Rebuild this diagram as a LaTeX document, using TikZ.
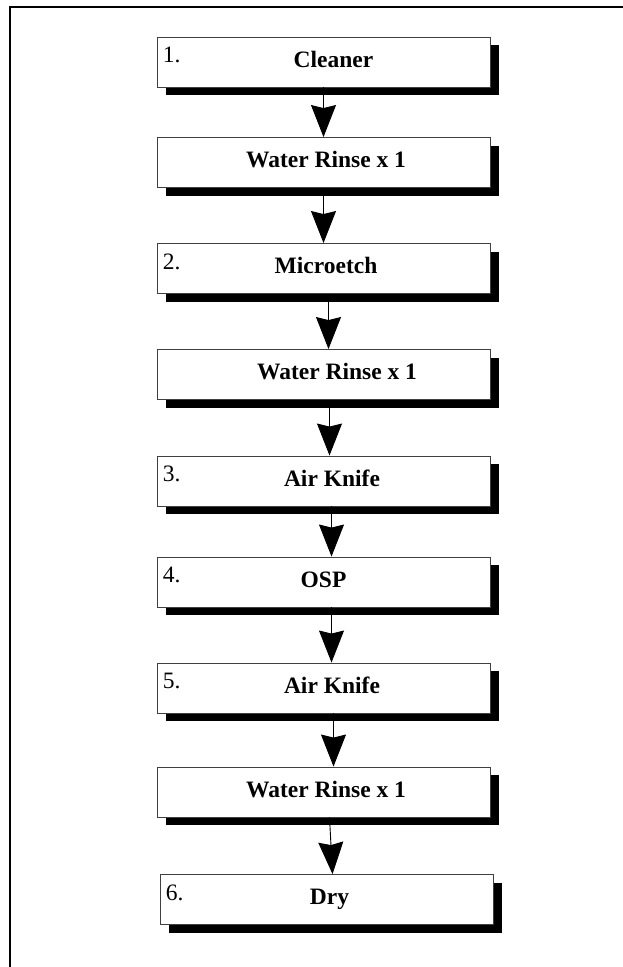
\documentclass[tikz,border=0pt]{standalone}
\usepackage{fontspec}
\setmainfont{Liberation Serif}
\usepackage{tikz}
\usetikzlibrary{arrows.meta, positioning, calc, shadows}

\tikzset{
    stepbox/.style={draw=black!75, line width=0.9pt, fill=white, minimum width=333pt, minimum height=50pt,
        inner sep=0pt, text height=15pt, text depth=5pt, font=\fontsize{23.5}{27}\selectfont\bfseries,
        drop shadow={shadow xshift=9pt, shadow yshift=-8pt, fill=black, opacity=1}},
    stepnum/.style={anchor=base west, inner sep=0pt, font=\fontsize{23.5}{27}\selectfont},
    flow/.style={line width=0.9pt, -{Stealth[width=25pt, length=32pt, inset=3pt]}}
}

\begin{document}
\begin{tikzpicture}[x=1pt, y=-1pt]
    \useasboundingbox (0,0) rectangle (623,967);
    % outer frame
    \draw[line width=1.3pt] (10,967) -- (10,7) -- (623,7);

    % process steps
    \node[stepbox] (s1) at (323.5, 62) {\hspace*{20pt}Cleaner};
    \node[stepbox] (s2) at (323.5, 162.5) {\hspace*{5pt}Water Rinse x 1};
    \node[stepbox] (s3) at (323.5, 268.5) {\hspace*{5pt}Microetch};
    \node[stepbox] (s4) at (323.5, 374.5) {\hspace*{27pt}Water Rinse x 1};
    \node[stepbox] (s5) at (323.5, 481) {\hspace*{17pt}Air Knife};
    \node[stepbox] (s6) at (323.5, 582) {OSP};
    \node[stepbox] (s7) at (323.5, 688) {\hspace*{17pt}Air Knife};
    \node[stepbox] (s8) at (323.5, 792) {\hspace*{5pt}Water Rinse x 1};
    \node[stepbox] (s9) at (326.5, 899.5) {\hspace*{6pt}Dry};

    % step numbers
    \node[stepnum] (n1) at ($(s1.north west)+(6,26)$) {1.};
    \node[stepnum] (n2) at ($(s3.north west)+(6,26)$) {2.};
    \node[stepnum] (n3) at ($(s5.north west)+(6,26)$) {3.};
    \node[stepnum] (n4) at ($(s6.north west)+(6,26)$) {4.};
    \node[stepnum] (n5) at ($(s7.north west)+(6,26)$) {5.};
    \node[stepnum] (n6) at ($(s9.north west)+(6,26)$) {6.};

    % arrows
    \foreach \a/\b/\dx in {s1/s2/0, s2/s3/0, s3/s4/5, s4/s5/6, s5/s6/8, s6/s7/8, s7/s8/10, s8/s9/6}
        \draw[flow] ([xshift=\dx pt]\a.south) -- ([xshift=\dx pt]\b.north);
\end{tikzpicture}
\end{document}
